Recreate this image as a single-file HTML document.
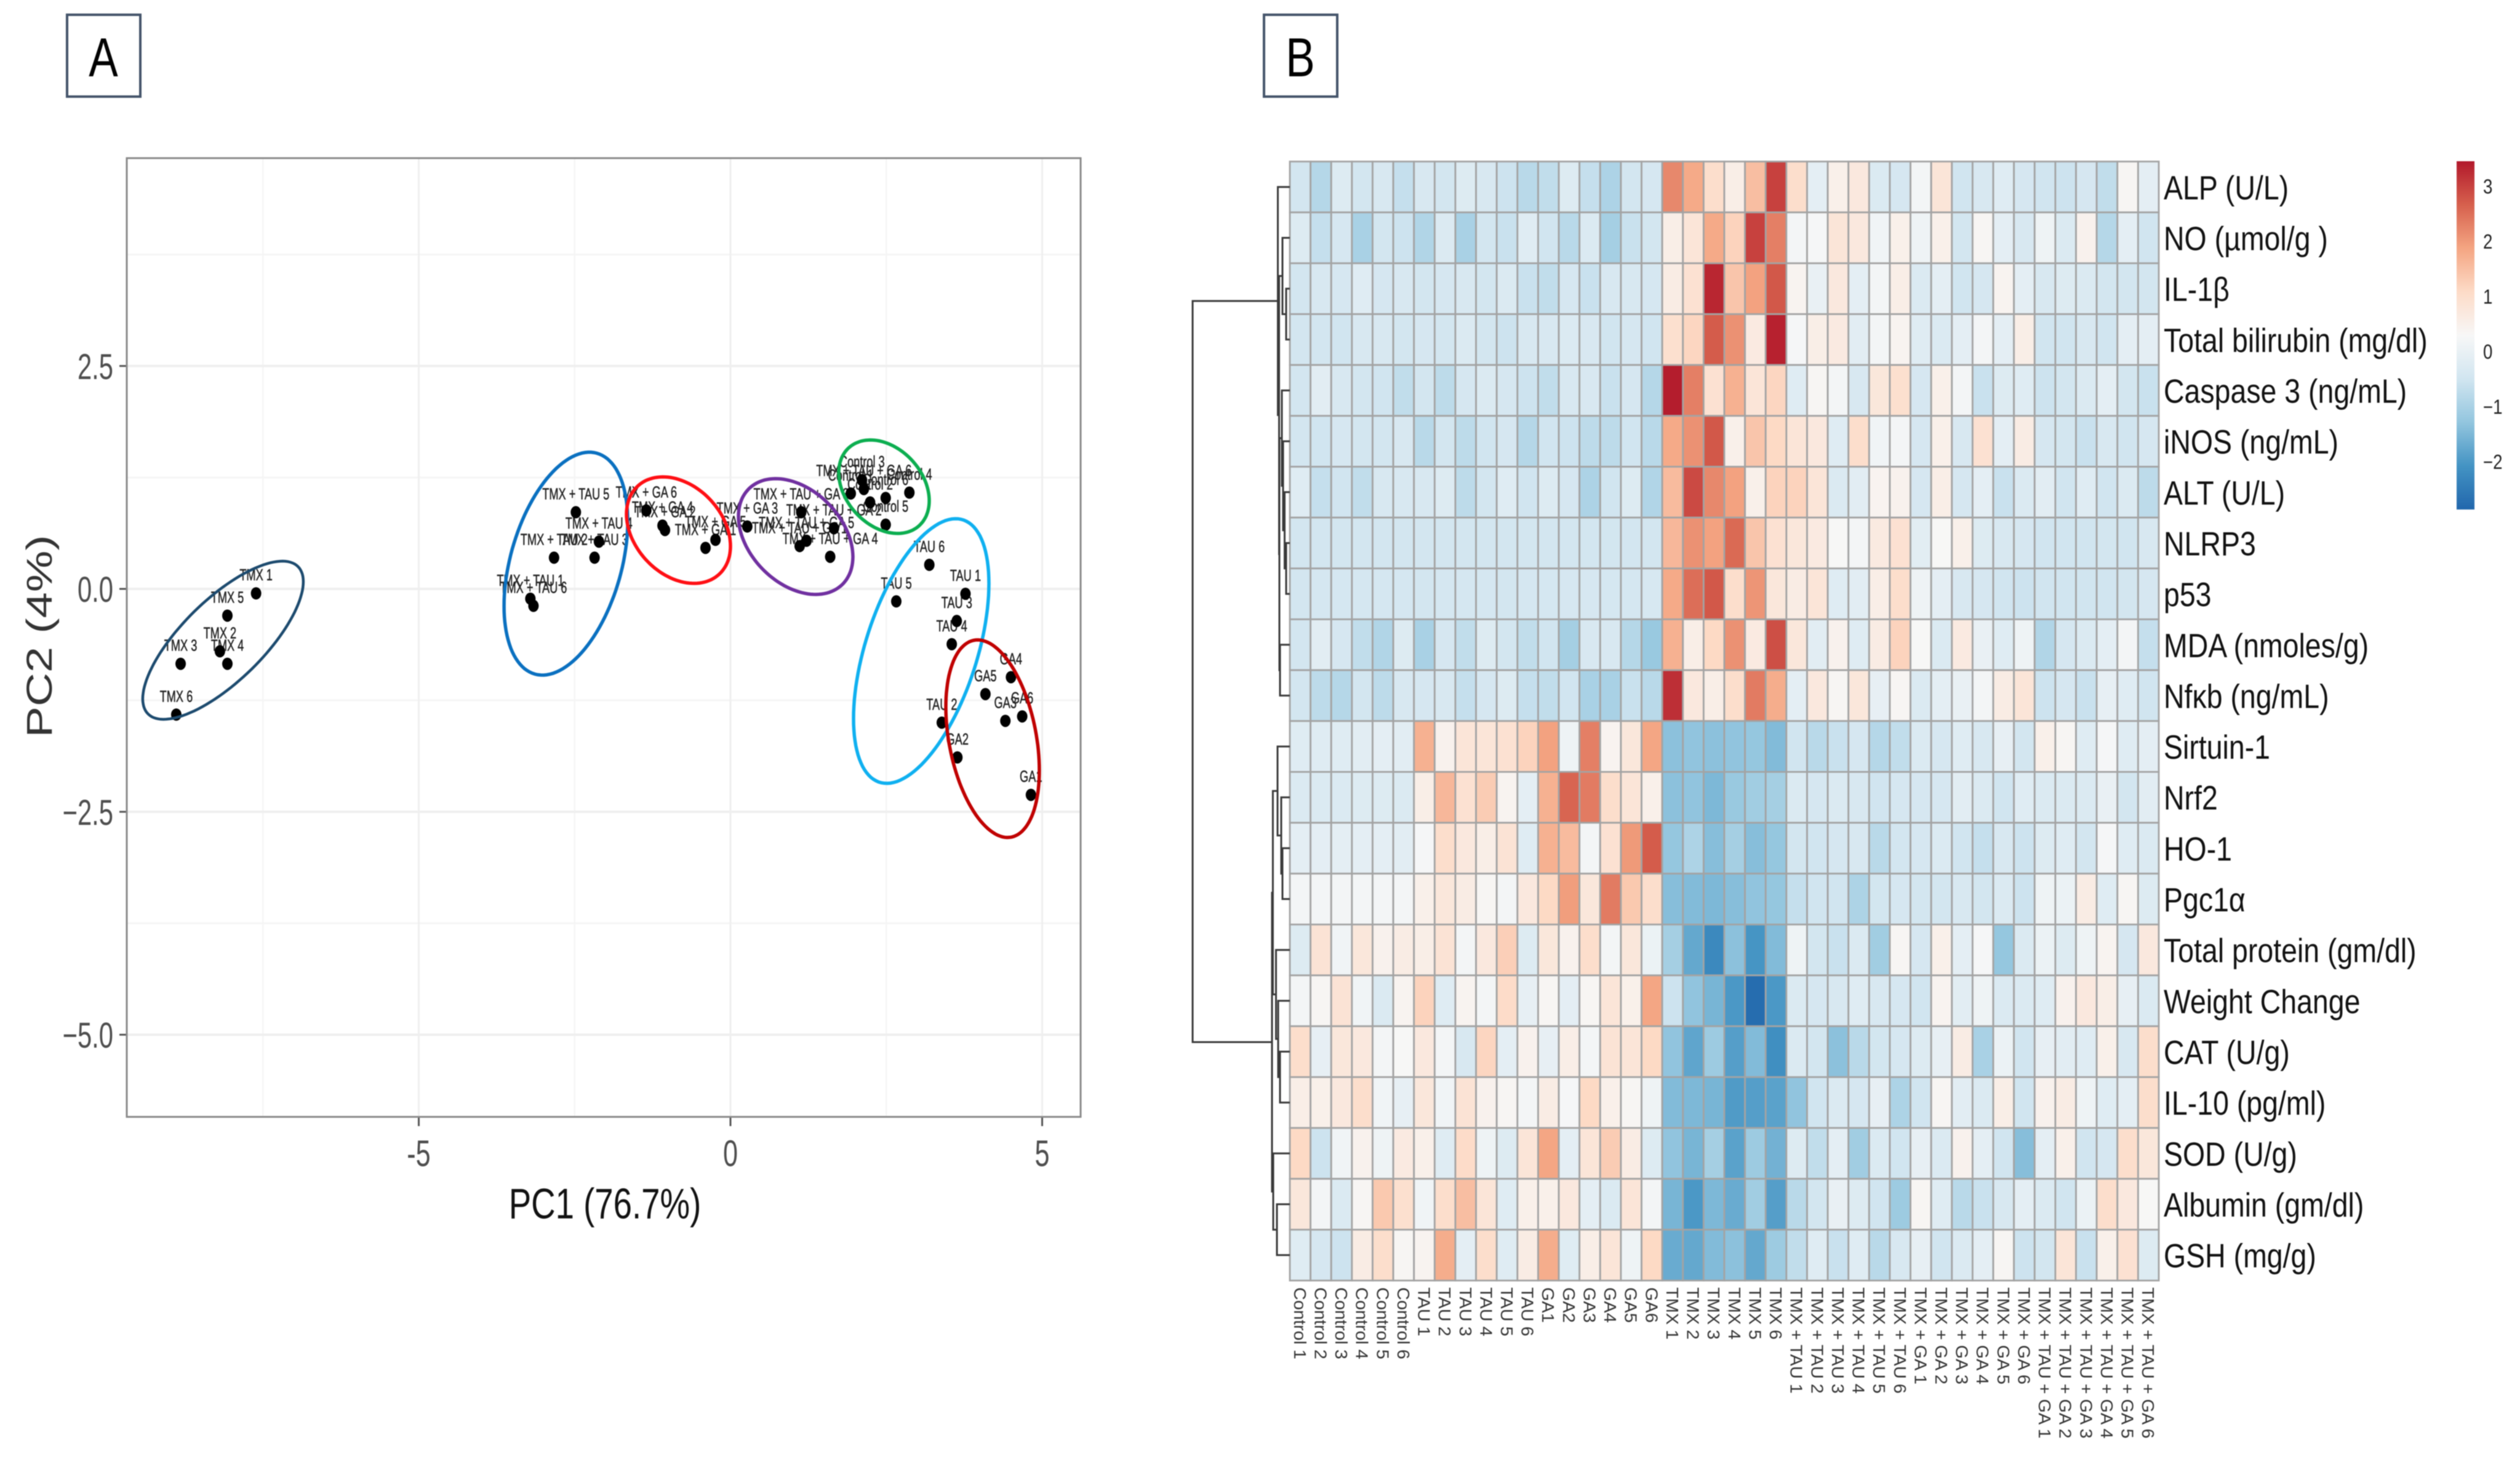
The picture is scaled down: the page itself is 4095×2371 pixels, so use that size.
<!DOCTYPE html>
<html lang="en">
<head>
<meta charset="utf-8">
<title>PCA and heatmap</title>
<style>
html,body{margin:0;padding:0;background:#fff}
svg{display:block;filter:blur(.9px)}
text{font-family:"Liberation Sans","DejaVu Sans",sans-serif}
</style>
</head>
<body>
<svg id="fig" xmlns="http://www.w3.org/2000/svg" width="4095" height="2371" viewBox="0 0 4095 2371">
  <rect x="0" y="0" width="4095" height="2371" fill="#ffffff"/>

  <g>
    <rect x="109" y="24" width="119" height="133" fill="#fff" stroke="#44546a" stroke-width="4"/>
    <text transform="translate(168,124) scale(.8,1)" text-anchor="middle" font-size="89" fill="#000">A</text>
  </g>
  <g>
    <rect x="2054" y="24" width="119" height="133" fill="#fff" stroke="#44546a" stroke-width="4"/>
    <text transform="translate(2113,124) scale(.8,1)" text-anchor="middle" font-size="89" fill="#000">B</text>
  </g>

  <g id="pca"></g>
  <text transform="translate(983,1980) scale(.78,1)" text-anchor="middle" font-size="70" fill="#111">PC1 (76.7%)</text>
  <text transform="translate(84,1034) rotate(-90) scale(1.31,1)" text-anchor="middle" font-size="58" fill="#333">PC2 (4%)</text>

  <g id="heat"></g>
  <g id="dendro"></g>
  <g id="legend"></g>
</svg>

<script>
/* ---------- PCA data ---------- */
const sampleNames = ["TMX 1","TMX 5","TMX 2","TMX 4","TMX 3","TMX 6",
  "TMX + TAU 5","TMX + TAU 4","TMX + TAU 3","TMX + TAU 2","TMX + TAU 1","TMX + TAU 6",
  "TMX + GA 6","TMX + GA 4","TMX + GA 2","TMX + GA 5","TMX + GA 1","TMX + GA 3",
  "TMX + TAU + GA 3","TMX + TAU + GA 2","TMX + TAU + GA 5","TMX + TAU + GA 1","TMX + TAU + GA 4",
  "Control 1","Control 3","TMX + TAU + GA 6","Control 2","Control 6","Control 4","Control 5",
  "TAU 6","TAU 1","TAU 5","TAU 3","TAU 4","TAU 2",
  "GA4","GA5","GA6","GA3","GA2","GA1"];
const pc1Values = [-7.61,-8.07,-8.19,-8.07,-8.82,-8.89,
  -2.48,-2.11,-2.18,-2.83,-3.21,-3.16,
  -1.35,-1.09,-1.05,-.24,-.40,.27,
  1.135,1.66,1.22,1.11,1.60,
  1.93,2.11,2.14,2.24,2.49,2.87,2.49,
  3.19,3.77,2.66,3.63,3.55,3.39,
  4.50,4.09,4.68,4.41,3.64,4.82];
const pc2Values = [-.05,-.30,-.70,-.84,-.84,-1.41,
  .86,.53,.35,.35,-.11,-.19,
  .88,.71,.66,.55,.46,.70,
  .86,.68,.54,.48,.36,
  1.07,1.22,1.12,.97,1.02,1.08,.72,
  .27,-.055,-.14,-.36,-.62,-1.50,
  -.99,-1.18,-1.43,-1.48,-1.89,-2.31];
const xMajorTicks = [-5,0,5];
const xMinorTicks = [-7.5,-2.5,2.5];
const yMajorTicks = [2.5,0,-2.5,-5];
const yMinorTicks = [3.75,1.25,-1.25,-3.75];
const xTickLabels = ["-5","0","5"];
const yTickLabels = ["2.5","0.0","\u22122.5","\u22125.0"];
/* group ellipses in data units: centre, half extents, correlation */
const ellipseGroups = ["tmx","tmx-tau","tmx-ga","tmx-tau-ga","control","tau","ga"];
const ellipseCx = [-8.14,-2.64,-.834,1.046,2.463,3.06,4.205];
const ellipseCy = [-.576,.283,.659,.587,1.146,-.697,-1.68];
const ellipseHalfW = [1.288,.992,.834,.918,.726,1.086,.75];
const ellipseHalfH = [.887,1.25,.597,.649,.524,1.484,1.108];
const ellipseCorr = [.74,.38,-.3,-.35,-.3,.51,-.32];
const ellipseColors = ["#1c4a6e","#0a70c0","#ff0f14","#7030a0","#0cae50","#0fb0f0","#c00000"];

/* ---------- Heatmap data ---------- */
const rowLabels = ["ALP (U/L)","NO (\u00b5mol/g )","IL-1\u03b2","Total bilirubin (mg/dl)","Caspase 3 (ng/mL)","iNOS (ng/mL)","ALT (U/L)","NLRP3","p53","MDA (nmoles/g)","Nf\u03bab (ng/mL)","Sirtuin-1","Nrf2","HO-1","Pgc1\u03b1","Total protein (gm/dl)","Weight Change","CAT (U/g)","IL-10 (pg/ml)","SOD (U/g)","Albumin (gm/dl)","GSH (mg/g)"];
const colLabels = ["Control 1","Control 2","Control 3","Control 4","Control 5","Control 6",
  "TAU 1","TAU 2","TAU 3","TAU 4","TAU 5","TAU 6",
  "GA1","GA2","GA3","GA4","GA5","GA6",
  "TMX 1","TMX 2","TMX 3","TMX 4","TMX 5","TMX 6",
  "TMX + TAU 1","TMX + TAU 2","TMX + TAU 3","TMX + TAU 4","TMX + TAU 5","TMX + TAU 6",
  "TMX + GA 1","TMX + GA 2","TMX + GA 3","TMX + GA 4","TMX + GA 5","TMX + GA 6",
  "TMX + TAU + GA 1","TMX + TAU + GA 2","TMX + TAU + GA 3","TMX + TAU + GA 4","TMX + TAU + GA 5","TMX + TAU + GA 6"];
const heatValues = [
[-.45,-.85,-.25,-.45,-.35,-.65,-.35,-.45,-.25,-.35,-.55,-.8,-.7,-.25,-.65,-.95,-.45,-.4,2.2,1.8,1.0,.55,1.5,3.0,1.0,-.1,.5,.7,-.3,-.4,.2,.8,-.5,-.35,-.2,-.4,-.5,-.55,-.4,-.7,.35,-.1],
[-.25,-.65,-.4,-1.0,-.45,-.55,-.9,-.3,-1.0,-.45,-.6,-.2,-.5,-.8,-.3,-1.05,-.6,-.45,.55,.8,1.8,1.2,3.0,2.3,.2,.25,.8,.7,.15,.5,.1,.5,-.45,.35,-.1,-.35,.1,-.3,.45,-.85,-.1,-.5],
[-.45,-.35,-.4,-.2,-.4,-.35,-.45,-.4,-.35,-.45,-.3,-.6,-.7,-.4,-.6,-.35,-.35,-.4,.6,.9,3.3,1.4,1.9,2.75,.4,0,.7,-.1,.2,.55,-.3,-.1,-.5,-.4,.4,-.1,-.35,-.25,-.3,-.45,-.45,-.45],
[-.45,-.45,-.5,-.35,-.35,-.45,-.4,-.45,-.3,-.45,-.55,-.35,-.35,-.3,-.35,-.5,-.4,-.5,.95,1.15,2.7,2.1,.65,3.35,.25,.55,.65,-.15,.2,.4,-.2,-.3,-.1,.2,-.1,.55,-.5,-.5,-.35,-.5,-.1,-.1],
[-.45,-.15,-.35,-.45,-.5,-.7,-.45,-.75,-.4,-.3,-.4,-.55,-.7,-.35,-.35,-.6,-.4,-.85,3.4,2.3,.9,1.7,.8,1.15,-.2,.35,.2,-.35,.75,.95,-.4,.5,.2,-.6,-.25,-.2,-.55,-.45,-.3,-.1,-.45,-.6],
[-.45,-.5,-.4,-.45,-.45,-.35,-.8,-.45,-.75,-.5,-.4,-.85,-.5,-.55,-.75,-.75,-.5,-.8,1.8,2.1,2.75,.5,1.4,1.1,.8,.7,-.2,1.0,.15,.2,-.4,.5,-.35,.9,-.1,.6,-.4,-.45,-.6,-.35,-.5,-.4],
[-.2,-.65,-.5,-.7,-.35,-.35,-.35,-.25,-.75,-.45,-.2,-.5,-.25,-.4,-.95,-.5,-.25,-.9,1.55,2.9,2.2,1.9,.5,1.2,1.2,.8,-.3,-.15,.4,.45,-.4,.55,-.4,-.1,-.6,-.3,-.15,-.5,-.2,-.5,-.3,-.75],
[-.45,-.45,-.45,-.45,-.45,-.45,-.45,-.45,-.45,-.45,-.45,-.45,-.45,-.45,-.45,-.45,-.45,-.45,1.6,2.1,1.9,2.55,1.4,.9,.75,.65,.3,.2,.65,.9,-.15,.3,.5,-.25,-.35,-.4,-.5,-.5,-.5,-.45,-.5,-.35],
[-.45,-.42,-.42,-.42,-.42,-.42,-.45,-.42,-.42,-.42,-.45,-.42,-.42,-.4,-.4,-.42,-.42,-.38,1.8,2.5,2.75,1.0,2.05,.75,.6,.8,-.2,-.15,.55,1.0,.1,-.1,-.35,-.4,-.5,-.55,-.5,-.5,-.5,-.5,-.45,-.4],
[-.45,-.15,-.4,-.7,-.9,-.25,-1.0,-.4,-.7,-.25,-.45,-.7,-.5,-1.05,-.35,-.35,-.85,-1.2,1.7,.55,1.1,2.1,.65,2.85,.75,-.15,.45,-.2,.6,1.2,.3,-.3,.65,0,-.2,.1,-.9,-.4,-.3,-.1,.2,-.65],
[-.45,-.75,-.85,-.45,-.75,-.35,-.4,-.35,-.65,-.4,-.25,-.65,-.7,-.5,-1.0,-1.0,-.6,-.8,3.2,.7,.55,1.0,2.35,1.75,-.1,.7,.35,.75,-.05,.35,-.3,-.1,0,.2,.6,.8,-.55,-.4,-.6,-.05,-.2,-.5],
[-.2,-.2,-.2,-.15,-.1,-.15,1.7,.45,.8,.8,.9,1.2,1.9,.1,2.3,.4,.75,1.85,-1.35,-1.3,-1.35,-1.3,-1.25,-1.45,-.5,-.8,-.6,-.4,-.85,-.7,-.3,-.4,-.2,-.35,-.05,-.45,.5,.35,-.2,.25,-.2,-.1],
[-.3,-.3,-.3,-.25,-.25,-.3,.55,1.6,.9,1.3,.4,-.1,1.7,2.6,2.35,1.0,.8,.5,-1.35,-1.3,-1.5,-1.2,-1.1,-1.05,-.3,-.4,-.3,-.35,-.5,-.4,-.4,-.4,-.15,-.3,-.5,-.2,-.3,-.3,-.3,0,-.45,-.15],
[-.1,-.1,-.1,-.1,-.1,-.15,.25,1.0,.7,.55,.85,-.2,1.7,1.55,.2,.9,2.0,2.7,-1.25,-.95,-1.4,-1.05,-1.4,-1.25,-.45,-.5,-.4,-.35,-.8,-.45,-.4,-.3,-.5,-.65,-.35,-.55,-.25,-.2,-.45,.25,-.2,-.3],
[.2,.2,.2,.2,.2,.2,.5,.75,.6,.35,.2,.7,1.1,1.95,.75,2.35,1.35,1.0,-1.4,-1.45,-1.5,-1.4,-1.3,-1.25,-.65,-.5,-.5,-.95,-.45,-.4,-.45,-.45,-.35,-.45,-.3,-.55,.1,.05,.6,-.2,.35,-.25],
[-.25,.85,.15,.75,.45,.6,.55,.85,.2,.7,1.25,-.25,.75,.45,1.0,.2,.75,.05,-1.05,-1.75,-2.25,-1.35,-2.05,-1.45,.1,-.45,-.6,-.3,-1.1,.35,-.4,.5,-.1,.25,-1.25,-.3,.05,-.25,.1,.4,-.4,.7],
[.2,.35,.85,.15,-.3,.4,1.2,-.2,.4,.2,1.05,-.05,.35,-.1,.35,.8,.5,1.85,-.55,-1.3,-1.55,-2.0,-2.75,-2.0,-.3,-.4,-.35,-.2,-.35,-.4,-.5,.4,-.15,.1,-.3,-.3,-.2,.45,.7,.55,-.05,-.3],
[1.0,-.05,.75,.7,.2,.3,.7,.2,-.35,1.15,-.1,.45,-.05,.55,.2,.85,.8,1.1,-1.3,-1.8,-1.15,-1.9,-1.45,-2.15,-.3,-.45,-1.35,-.8,-.45,-.4,-.25,-.05,.6,-1.0,.05,-.5,-.05,-.15,-.2,.5,-.35,1.0],
[.55,.5,.7,1.0,.15,-.05,.75,.15,.85,.45,.35,.2,.6,.25,1.1,.5,.35,.1,-1.45,-1.5,-1.55,-1.95,-1.9,-1.85,-1.3,-.5,-.3,-.4,-.05,-.95,-.5,.35,-.15,-.3,.55,-.5,.45,.6,.1,-.2,-.1,1.0],
[1.1,-.55,.15,.45,.1,.65,.5,-.2,1.05,.1,-.25,.8,1.85,-.1,.8,1.3,.6,-.25,-1.3,-1.55,-1.05,-1.85,-1.15,-1.6,-.25,-.7,-.1,-1.1,-.3,-.5,-.05,-.3,.45,-.1,-.5,-1.4,-.1,.5,-.5,-.4,1.0,.75],
[.75,.2,-.3,.35,1.35,.95,.15,1.0,1.5,.8,-.2,.5,.5,.7,-.1,-.3,.8,.2,-1.55,-2.0,-1.5,-1.7,-1.1,-1.9,-.8,-.45,0,-.25,-.5,-1.15,.35,-.2,-.8,-.6,-.35,-.1,-.3,-.5,.05,1.0,.7,.3],
[-.2,-.4,-.55,.6,1.0,.35,.4,1.75,-.1,1.0,-.2,.6,1.75,-.2,.55,.8,.1,1.1,-1.7,-1.75,-1.45,-1.35,-1.75,-1.15,-.7,-.2,-.6,-.2,-.8,-.35,-.05,-.5,-.3,-.1,.35,-.55,-.45,.8,-.6,.5,.9,-.25]
];
const legendTicks = [3,2,1,0,-1,-2];
const legendTickLabels = ["3","2","1","0","\u22121","\u22122"];
const colorDomain = [-2.87,3.45];
const palette = ["#2166ac","#4393c3","#92c5de","#d1e5f0","#f7f7f7","#fddbc7","#f4a582","#d6604d","#b2182b"];

/* dendrogram: merges of leaf rows (0-21) and earlier merges (22+), with heights */
const mergeLeft =   [2,1,7,6,5,4,9,27,23,0,13,12,11,17,16,15,34,20,19,38,31];
const mergeRight =  [3,22,8,24,25,26,10,28,29,30,14,32,33,18,35,36,37,21,39,40,41];
const mergeHeight = [.6,1.2,.6,.85,1.1,1.3,1.6,1.7,1.75,1.95,1.2,1.4,2.0,1.6,1.9,2.25,2.76,2.1,2.7,2.9,15.8];

/* ---------- helpers ---------- */
const NS = "http://www.w3.org/2000/svg";
function make(tag, parent, attrs, txt){
  const el = document.createElementNS(NS, tag);
  for (const k in attrs) el.setAttribute(k, attrs[k]);
  if (txt !== undefined) el.textContent = txt;
  parent.appendChild(el);
  return el;
}

/* ---------- PCA plot ---------- */
const pca = document.getElementById("pca");
const panel = {l:206, t:257, r:1756, b:1815};
const xScale = v => 1187 + 101.3 * v;
const yScale = v => 957 - 144.9 * v;

xMinorTicks.forEach(v => {
  const el = make("line", pca, {x1:xScale(v),x2:xScale(v),y1:panel.t,y2:panel.b,stroke:"#f5f5f5","stroke-width":2.5});
  
  
});
yMinorTicks.forEach(v => {
  const el = make("line", pca, {x1:panel.l,x2:panel.r,y1:yScale(v),y2:yScale(v),stroke:"#f5f5f5","stroke-width":3});
  
  
});
xMajorTicks.forEach((v,i) => {
  const g = make("line", pca, {x1:xScale(v),x2:xScale(v),y1:panel.t,y2:panel.b,stroke:"#efefef","stroke-width":3});
  
  
  const t = make("line", pca, {x1:xScale(v),x2:xScale(v),y1:panel.b,y2:panel.b+15,stroke:"#555","stroke-width":3});
  
  
  const l = make("text", pca, {transform:`translate(${xScale(v)},1895) scale(.72,1)`,"text-anchor":"middle","font-size":60,fill:"#4d4d4d"}, xTickLabels[i]);
  
  
});
yMajorTicks.forEach((v,i) => {
  const g = make("line", pca, {x1:panel.l,x2:panel.r,y1:yScale(v),y2:yScale(v),stroke:"#efefef","stroke-width":4});
  
  
  const t = make("line", pca, {x1:panel.l-12,x2:panel.l,y1:yScale(v),y2:yScale(v),stroke:"#555","stroke-width":3});
  
  
  const l = make("text", pca, {transform:`translate(184,${yScale(v)+21}) scale(.72,1)`,"text-anchor":"end","font-size":58,fill:"#4d4d4d"}, yTickLabels[i]);
  
  
});
const frame = make("rect", pca, {x:panel.l,y:panel.t,width:panel.r-panel.l,height:panel.b-panel.t,fill:"none",stroke:"#8a8a8a","stroke-width":3});



sampleNames.forEach((name,i) => {
  const px = xScale(pc1Values[i]), py = yScale(pc2Values[i]);
  const lab = make("text", pca, {transform:`translate(${px},${py-21}) scale(.7,1)`,"text-anchor":"middle","font-size":26,fill:"#222",stroke:"#222","stroke-width":.5});
  lab.textContent = name;
  
  
});
sampleNames.forEach((name,i) => {
  const px = xScale(pc1Values[i]), py = yScale(pc2Values[i]);
  const dot = make("ellipse", pca, {cx:px,cy:py,rx:8.5,ry:10,fill:"#000"});
  
  
});
ellipseGroups.forEach((grp,i) => {
  let d = "";
  const r = ellipseCorr[i], q = Math.sqrt(1 - r*r);
  for (let k = 0; k <= 120; k++){
    const t = k / 120 * 2 * Math.PI;
    const vx = ellipseCx[i] + ellipseHalfW[i] * Math.cos(t);
    const vy = ellipseCy[i] + ellipseHalfH[i] * (r * Math.cos(t) + q * Math.sin(t));
    d += (k ? "L" : "M") + xScale(vx).toFixed(1) + " " + yScale(vy).toFixed(1);
  }
  const el = make("path", pca, {d:d+"Z",fill:"none",stroke:ellipseColors[i],"stroke-width":i===0?4.5:5.5});
  
  
});

/* ---------- Heatmap ---------- */
const heat = document.getElementById("heat");
const hm = {l:2096, t:262.5, r:3508, b:2081};
const cellW = (hm.r - hm.l) / colLabels.length;
const cellH = (hm.b - hm.t) / rowLabels.length;
const colX = c => hm.l + c * cellW;
const rowY = r => hm.t + r * cellH;
function hex2rgb(h){ return [1,3,5].map(i => parseInt(h.substr(i,2),16)); }
function colorOf(v){
  const f = Math.max(0, Math.min(1, (v - colorDomain[0]) / (colorDomain[1] - colorDomain[0]))) * (palette.length - 1);
  const i = Math.min(palette.length - 2, Math.floor(f)), u = f - i;
  const a = hex2rgb(palette[i]), b = hex2rgb(palette[i+1]);
  return "rgb(" + a.map((c,k) => Math.round(c + (b[k]-c)*u)).join(",") + ")";
}
heatValues.forEach((row,r) => {
  row.forEach((v,c) => {
    const cell = make("rect", heat, {x:colX(c),y:rowY(r),width:cellW,height:cellH,fill:colorOf(v),stroke:"#a3a3a3","stroke-width":2.8});
    
    
  });
});
rowLabels.forEach((name,r) => {
  const y = rowY(r + .5) + 20;
  const t = make("text", heat, {transform:`translate(3516,${y}) scale(.845,1)`,"font-size":55,fill:"#111"}, name);
  
  
});
colLabels.forEach((name,c) => {
  const x = colX(c + .5) - 10;
  const t = make("text", heat, {transform:`translate(${x},2092) rotate(90) scale(1.03,1)`,"font-size":28,fill:"#333"}, name);
  
  
});

/* ---------- Dendrogram ---------- */
const dendro = document.getElementById("dendro");
const hScale = h => hm.l - 10 * h;
const nodes = rowLabels.map((_,r) => ({y:rowY(r + .5), x:hm.l}));
mergeLeft.forEach((a,i) => {
  const A = nodes[a], B = nodes[mergeRight[i]], x = hScale(mergeHeight[i]);
  const p = make("path", dendro, {d:`M${A.x} ${A.y}H${x}V${B.y}H${B.x}`,fill:"none",stroke:"#3a3a3a","stroke-width":3});
  
  
  nodes.push({x:x, y:(A.y + B.y) / 2});
});

/* ---------- Colour legend ---------- */
const legend = document.getElementById("legend");
const lg = {l:3992, r:4021, t:262, b:828};
const legendY = v => lg.t + (colorDomain[1] - v) / (colorDomain[1] - colorDomain[0]) * (lg.b - lg.t);
const defs = make("defs", legend, {});
const grad = make("linearGradient", defs, {id:"legendGrad",x1:0,y1:1,x2:0,y2:0});
palette.forEach((c,i) => {
  make("stop", grad, {offset:i/(palette.length-1),"stop-color":c});
});
const bar = make("rect", legend, {x:lg.l,y:lg.t,width:lg.r-lg.l,height:lg.b-lg.t,fill:"url(#legendGrad)"});


legendTicks.forEach((v,i) => {
  const t = make("text", legend, {transform:`translate(4035,${legendY(v)+12}) scale(.84,1)`,"font-size":33,fill:"#222"}, legendTickLabels[i]);
  
  
});
</script>
</body>
</html>
